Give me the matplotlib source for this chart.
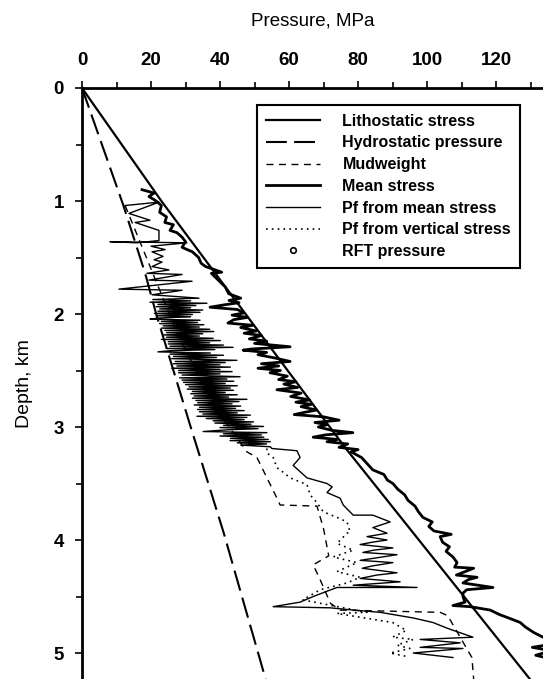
import matplotlib.pyplot as plt
from matplotlib.ticker import MultipleLocator

plt.rcParams['font.family'] = ['Liberation Sans', 'DejaVu Sans']

# straight reference profiles (depth km, pressure MPa)
litho_depth = [0.0, 1.0, 3.18, 5.25]
litho_pres = [0.0, 23.0, 76.2, 130.3]

hydro_depth = [0.0, 1.04, 1.64, 2.0, 3.0, 3.93, 5.23]
hydro_pres = [0.0, 12.0, 18.3, 21.5, 31.5, 41.0, 53.2]

mud_depth = [1.04, 1.6, 2.2, 2.8, 3.22, 3.27, 3.63, 3.69, 3.70, 3.90, 4.14, 4.22, 4.35,
             4.56, 4.62, 4.64, 4.67, 5.04, 5.23]
mud_pres = [12.5, 20.0, 28.0, 38.0, 47.8, 50.7, 56.5, 57.4, 68.1, 70.0, 71.5, 67.0, 69.0,
            72.0, 74.8, 103.8, 106.0, 113.0, 113.5]

mean_depth = [0.90, 0.93, 0.96, 1.00, 1.04, 1.10, 1.14, 1.19, 1.21, 1.26, 1.28, 1.32,
              1.36, 1.41, 1.45, 1.50, 1.55, 1.58, 1.63, 1.64, 1.70, 1.76, 1.82, 1.86,
              1.88, 1.90, 1.92, 1.94, 1.96, 1.99, 2.01, 2.03, 2.05, 2.08, 2.10, 2.12,
              2.15, 2.17, 2.19, 2.22, 2.24, 2.26, 2.29, 2.31, 2.32, 2.34, 2.36, 2.39,
              2.42, 2.44, 2.46, 2.48, 2.50, 2.52, 2.55, 2.58, 2.60, 2.62, 2.65, 2.67,
              2.70, 2.73, 2.76, 2.78, 2.80, 2.82, 2.85, 2.87, 2.89, 2.91, 2.94, 2.96,
              2.98, 3.00, 3.03, 3.05, 3.07, 3.09, 3.11, 3.13, 3.15, 3.18, 3.20, 3.22,
              3.27, 3.32, 3.38, 3.42, 3.47, 3.50, 3.55, 3.60, 3.65, 3.70, 3.75, 3.80,
              3.84, 3.88, 3.92, 3.95, 3.97, 4.02, 4.06, 4.10, 4.15, 4.20, 4.24, 4.25,
              4.28, 4.31, 4.33, 4.35, 4.38, 4.42, 4.44, 4.47, 4.50, 4.55, 4.58, 4.59,
              4.62, 4.66, 4.70, 4.73, 4.77, 4.82, 4.86, 4.92, 4.95, 4.98, 5.02, 5.06,
              5.15]
mean_pres = [17.4, 20.9, 19.4, 21.5, 23.0, 22.5, 24.5, 24.0, 26.5, 25.5, 27.5, 29.0,
             30.0, 29.0, 32.0, 33.8, 34.5, 35.8, 40.5, 37.5, 39.5, 41.5, 42.5, 46.0,
             42.6, 45.5, 41.0, 37.1, 45.0, 47.0, 43.5, 48.0, 44.0, 42.3, 49.5, 46.0,
             50.5, 47.0, 52.0, 48.5, 53.5, 50.0, 60.3, 49.0, 46.7, 53.5, 51.0, 56.0,
             60.3, 52.0, 57.0, 51.0, 57.5, 54.5, 59.5, 57.0, 62.0, 58.5, 62.5, 56.5,
             63.5, 60.5, 66.0, 62.0, 66.5, 63.5, 68.0, 64.5, 61.5, 70.0, 74.5, 67.5,
             71.0, 68.5, 72.5, 78.5, 70.5, 67.0, 74.0, 71.0, 77.0, 74.5, 80.0, 78.0,
             81.0, 82.5, 84.3, 87.5, 88.5, 90.1, 91.5, 93.5, 94.5, 96.5, 97.5, 98.8,
             101.5, 100.5, 102.0, 107.0, 103.8, 104.5, 106.5, 105.5, 107.5, 108.7, 108.0, 113.5,
             111.0, 108.5, 114.5, 112.0, 110.4, 119.1, 111.5, 110.4, 110.4, 111.0, 107.5, 112.5,
             118.3, 121.0, 124.5, 127.0, 128.5, 131.0, 133.6, 136.5, 130.5, 136.0, 131.5, 137.0,
             140.0]

pfm_depth = [1.04, 1.01, 1.11, 1.17, 1.19, 1.26, 1.35, 1.37, 1.36, 1.37, 1.40, 1.43,
             1.45, 1.49, 1.52, 1.54, 1.58, 1.61, 1.64, 1.65, 1.70, 1.71, 1.78, 1.79,
             1.83, 1.860, 1.872, 1.884, 1.896, 1.905, 1.915, 1.925, 1.935, 1.945, 1.955, 1.965,
             1.975, 1.985, 1.995, 2.005, 2.015, 2.025, 2.035, 2.045, 2.055, 2.065, 2.075, 2.085,
             2.095, 2.105, 2.115, 2.125, 2.135, 2.145, 2.155, 2.165, 2.175, 2.185, 2.195, 2.205,
             2.215, 2.225, 2.235, 2.245, 2.255, 2.265, 2.275, 2.285, 2.295, 2.305, 2.315, 2.325,
             2.335, 2.345, 2.355, 2.365, 2.375, 2.385, 2.395, 2.410, 2.420, 2.430, 2.440, 2.450,
             2.460, 2.470, 2.480, 2.490, 2.500, 2.510, 2.520, 2.530, 2.540, 2.555, 2.565, 2.575,
             2.585, 2.595, 2.605, 2.615, 2.625, 2.635, 2.645, 2.655, 2.665, 2.675, 2.685, 2.695,
             2.705, 2.715, 2.725, 2.735, 2.745, 2.755, 2.765, 2.775, 2.785, 2.795, 2.805, 2.815,
             2.825, 2.835, 2.845, 2.855, 2.865, 2.875, 2.885, 2.895, 2.905, 2.915, 2.925, 2.935,
             2.945, 2.955, 2.965, 2.975, 2.985, 2.995, 3.005, 3.015, 3.025, 3.040, 3.050, 3.060,
             3.070, 3.080, 3.090, 3.100, 3.110, 3.120, 3.130, 3.140, 3.150, 3.160, 3.175, 3.190,
             3.21, 3.27, 3.34, 3.45, 3.50, 3.53, 3.58, 3.63, 3.69, 3.78, 3.78, 3.84,
             3.89, 3.94, 3.97, 4.00, 4.02, 4.04, 4.07, 4.09, 4.11, 4.13, 4.16, 4.18,
             4.20, 4.23, 4.25, 4.29, 4.31, 4.34, 4.37, 4.40, 4.42, 4.42, 4.50, 4.55,
             4.59, 4.60, 4.62, 4.64, 4.69, 4.73, 4.78, 4.86, 4.88, 4.91, 4.95, 4.96,
             5.00, 5.04]
pfm_pres = [12.5, 22.3, 13.6, 19.7, 15.4, 22.3, 22.3, 15.9, 8.1, 30.4, 20.0, 24.1,
            20.3, 23.5, 20.9, 23.2, 20.3, 25.2, 18.8, 29.0, 19.4, 31.9, 10.7, 29.0,
            20.3, 33.9, 20.5, 31.5, 19.7, 36.2, 22.0, 33.0, 21.5, 31.5, 22.5, 35.0,
            22.0, 34.2, 21.0, 32.0, 21.5, 31.5, 22.5, 19.7, 34.2, 23.0, 33.5, 22.5,
            35.3, 23.5, 34.0, 23.0, 37.0, 24.0, 38.2, 24.5, 35.0, 23.5, 34.0, 24.5,
            38.0, 23.0, 40.1, 25.0, 37.0, 25.0, 41.0, 25.5, 43.8, 24.4, 38.5, 25.5,
            22.0, 37.2, 25.5, 41.0, 26.5, 39.0, 26.0, 44.9, 27.0, 41.5, 26.4, 40.0,
            27.5, 43.0, 26.0, 40.0, 28.0, 43.5, 28.0, 40.0, 29.0, 45.8, 28.3, 42.0,
            29.0, 44.0, 29.4, 41.5, 30.0, 45.0, 31.0, 43.0, 30.5, 43.9, 32.0, 41.5,
            31.5, 45.0, 32.5, 42.5, 32.0, 47.8, 33.0, 45.5, 33.5, 43.5, 32.5, 46.0,
            34.0, 44.5, 33.5, 47.0, 34.0, 45.0, 35.0, 48.8, 33.3, 47.8, 36.0, 47.0,
            38.0, 49.7, 38.5, 49.0, 41.0, 52.6, 40.0, 51.0, 42.0, 35.1, 53.6, 41.0,
            52.0, 40.0, 52.7, 43.0, 54.0, 42.9, 54.6, 45.0, 53.5, 46.0, 54.6, 55.0,
            62.3, 63.2, 61.2, 65.2, 71.0, 72.5, 71.0, 74.8, 75.7, 78.6, 84.3, 89.3,
            84.3, 88.4, 82.6, 88.4, 84.0, 80.6, 90.1, 84.5, 81.4, 91.3, 85.0, 80.6,
            90.1, 84.0, 81.2, 91.3, 85.5, 80.6, 92.2, 78.6, 97.1, 73.9, 67.0, 63.2,
            55.4, 71.9, 78.6, 86.4, 96.0, 101.7, 105.8, 113.3, 98.0, 109.6, 98.0, 110.4,
            96.0, 107.5]

pfv_depth = [3.19, 3.23, 3.27, 3.36, 3.40, 3.45, 3.51, 3.60, 3.67, 3.75, 3.80, 3.84,
             3.93, 3.94, 4.03, 4.09, 4.15, 4.20, 4.28, 4.33, 4.38, 4.44, 4.53, 4.64,
             4.65, 4.73, 4.80, 4.86, 4.88, 4.93, 4.96, 5.00, 5.03]
pfv_pres = [53.6, 53.6, 55.4, 56.5, 58.3, 60.3, 65.2, 66.1, 68.1, 69.9, 73.9, 76.8,
            77.7, 76.8, 73.9, 78.6, 72.8, 79.7, 73.9, 80.6, 76.8, 69.0, 64.0, 82.6,
            73.9, 90.0, 94.0, 90.0, 96.0, 91.3, 95.0, 89.3, 94.0]

rft_depth = []
rft_pres = []

fig = plt.figure(figsize=(5.43, 6.79), dpi=100)
ax = fig.add_axes([82 / 543, 0.0, (543 - 82) / 543, (679 - 88) / 679])

ax.plot(litho_pres, litho_depth, color='k', lw=1.6, label='Lithostatic stress')
ax.plot(hydro_pres, hydro_depth, color='k', lw=1.5, dashes=(10, 3.5),
        label='Hydrostatic pressure')
ax.plot(mud_pres, mud_depth, color='k', lw=1.0, dashes=(5, 4), label='Mudweight')
ax.plot(mean_pres, mean_depth, color='k', lw=2.0, label='Mean stress')
ax.plot(pfm_pres, pfm_depth, color='k', lw=1.0, label='Pf from mean stress')
ax.plot(pfv_pres, pfv_depth, color='k', lw=1.2, dashes=(1, 2.5),
        label='Pf from vertical stress')
ax.plot(rft_pres, rft_depth, 'o', color='k', mfc='white', ms=4, mew=1.2,
        label='RFT pressure')

ax.set_xlim(0, 133.6)
ax.set_ylim(5.23, 0)
ax.xaxis.tick_top()
ax.xaxis.set_label_position('top')
ax.xaxis.set_major_locator(MultipleLocator(20))
ax.xaxis.set_minor_locator(MultipleLocator(10))
ax.yaxis.set_major_locator(MultipleLocator(1))
ax.yaxis.set_minor_locator(MultipleLocator(0.5))
ax.tick_params(which='both', direction='out', width=1.2, labelsize=13.5)
ax.tick_params(which='major', length=5)
ax.tick_params(which='minor', length=4)
ax.tick_params(axis='x', pad=9)
ax.tick_params(axis='y', pad=8)
for lab in ax.get_xticklabels() + ax.get_yticklabels():
    lab.set_fontweight('bold')

ax.spines['right'].set_visible(False)
ax.spines['bottom'].set_visible(False)
ax.spines['left'].set_linewidth(2.0)
ax.spines['top'].set_linewidth(2.0)

ax.set_xlabel('Pressure, MPa', fontsize=13.5, labelpad=19)
ax.set_ylabel('Depth, km', fontsize=14, labelpad=15)

leg = ax.legend(loc='upper left', bbox_to_anchor=(257 / 543, 1 - 105 / 679),
                bbox_transform=fig.transFigure, frameon=True, fancybox=False,
                prop={'size': 11.5, 'weight': 'bold'}, handlelength=3.4,
                handletextpad=1.4, labelspacing=0.42, borderpad=0.55,
                borderaxespad=0)
leg.get_frame().set_edgecolor('k')
leg.get_frame().set_linewidth(1.5)
leg.get_frame().set_alpha(1)

fig.savefig('out.png', dpi=100)
